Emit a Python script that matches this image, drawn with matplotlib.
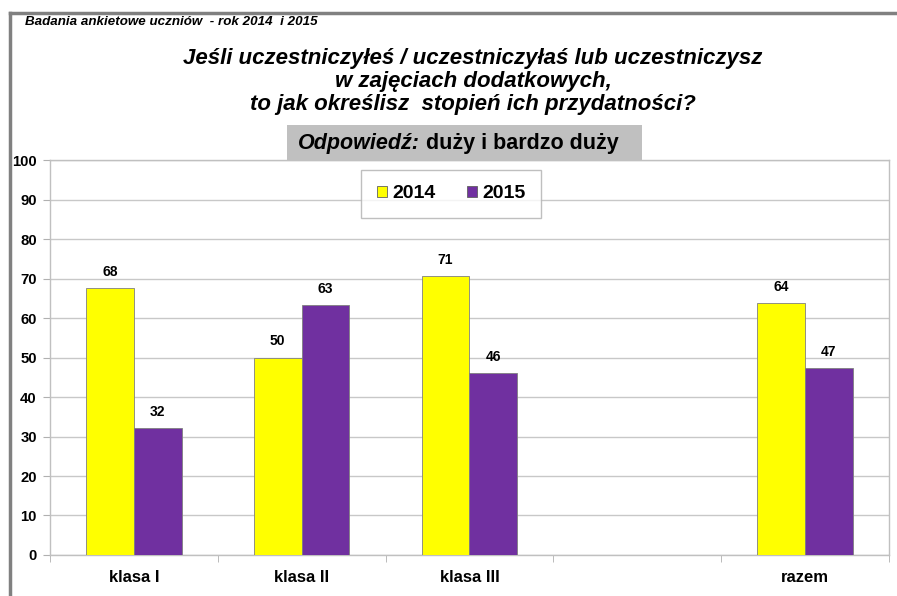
import matplotlib
matplotlib.use("Agg")
import matplotlib.pyplot as plt
from matplotlib.patches import Rectangle
from matplotlib.lines import Line2D
from matplotlib.text import Annotation
import numpy as np

plt.rcParams['font.family'] = ['Liberation Sans', 'DejaVu Sans']

# data
categories = ['klasa I', 'klasa II', 'klasa III', '', 'razem']
slots = [0, 1, 2, 4]
labels = ['klasa I', 'klasa II', 'klasa III', 'razem']
values_2014 = [67.6, 50.0, 70.6, 63.8]
values_2015 = [32.2, 63.2, 46.0, 47.3]
series = ['2014', '2015']
colors = ['#FFFF00', '#7030A0']

fig = plt.figure(figsize=(8.97, 5.96), dpi=100)
ax = fig.add_axes([0.0557, 0.0688, 0.9353, 0.6627])

x = np.array(slots)
w = 0.285
b1 = ax.bar(x - w / 2, values_2014, w, color=colors[0], edgecolor='#808080', linewidth=0.6, label=series[0], zorder=3)
b2 = ax.bar(x + w / 2, values_2015, w, color=colors[1], edgecolor='#808080', linewidth=0.6, label=series[1], zorder=3)

for bars in (b1, b2):
    for r in bars:
        ax.text(r.get_x() + r.get_width() / 2, r.get_height() + 2.3, '%.0f' % r.get_height(),
                ha='center', va='bottom', fontsize=10, fontweight='bold')

ax.set_xlim(-0.5, len(categories) - 0.5)
ax.set_ylim(0, 100)
ax.set_yticks(range(0, 101, 10))
ax.set_xticks(slots)
ax.set_xticklabels(labels, fontsize=12, fontweight='bold')
ax.set_xticks(np.arange(-0.5, len(categories)), minor=True)
ax.tick_params(axis='x', which='major', length=0, pad=11)
ax.tick_params(axis='x', which='minor', length=5, color='#b0b0b0', direction='out')
ax.tick_params(axis='y', length=5, color='#b0b0b0', labelsize=10.7, pad=4.5)
for t in ax.get_yticklabels():
    t.set_fontweight('bold')
ax.yaxis.grid(True, color='#c8c8c8', linewidth=1, zorder=0)
for s in ax.spines.values():
    s.set_color('#c0c0c0')
    s.set_linewidth(1)

leg = ax.legend(loc='upper center', bbox_to_anchor=(0.478, 0.975), ncol=2, frameon=True,
                fancybox=False, edgecolor='#b0b0b0', prop={'weight': 'bold', 'size': 14},
                handlelength=0.55, handleheight=0.55, columnspacing=1.6, handletextpad=0.25,
                borderpad=0.8, borderaxespad=0)
leg.get_frame().set_linewidth(1)
for h in leg.legend_handles:
    h.set_edgecolor('#606060')

# outer frame
fig.add_artist(Line2D([9.5 / 897, 9.5 / 897], [0, 1 - 13 / 596], color='#808080', linewidth=2.5))
fig.add_artist(Line2D([9.5 / 897, 1], [1 - 13 / 596, 1 - 13 / 596], color='#808080', linewidth=2.5))

fig.text(25 / 897, 1 - 22 / 596, 'Badania ankietowe uczniów  - rok 2014  i 2015', fontsize=9.6,
         fontweight='bold', style='italic', va='center')
title = ('Jeśli uczestniczyłeś / uczestniczyłaś lub uczestniczysz\n'
         'w zajęciach dodatkowych,\n'
         'to jak określisz  stopień ich przydatności?')
fig.text(473 / 897, 1 - 81.5 / 596, title, fontsize=16, fontweight='bold', style='italic',
         ha='center', va='center', linespacing=1.15)

fig.add_artist(Rectangle((287 / 897, 1 - 160 / 596), 355 / 897, 35 / 596, transform=fig.transFigure,
                         facecolor='#c0c0c0', edgecolor='none', zorder=1))
t1 = fig.text(298 / 897, 1 - 143 / 596, 'Odpowiedź:', fontsize=15.5, fontweight='bold', style='italic',
              va='center', zorder=2)
t2 = Annotation(' duży i bardzo duży', xy=(1, 0.5), xycoords=t1, va='center', ha='left',
                fontsize=15.5, fontweight='bold', annotation_clip=False, zorder=2)
fig.add_artist(t2)

fig.savefig('out.png', dpi=100)
